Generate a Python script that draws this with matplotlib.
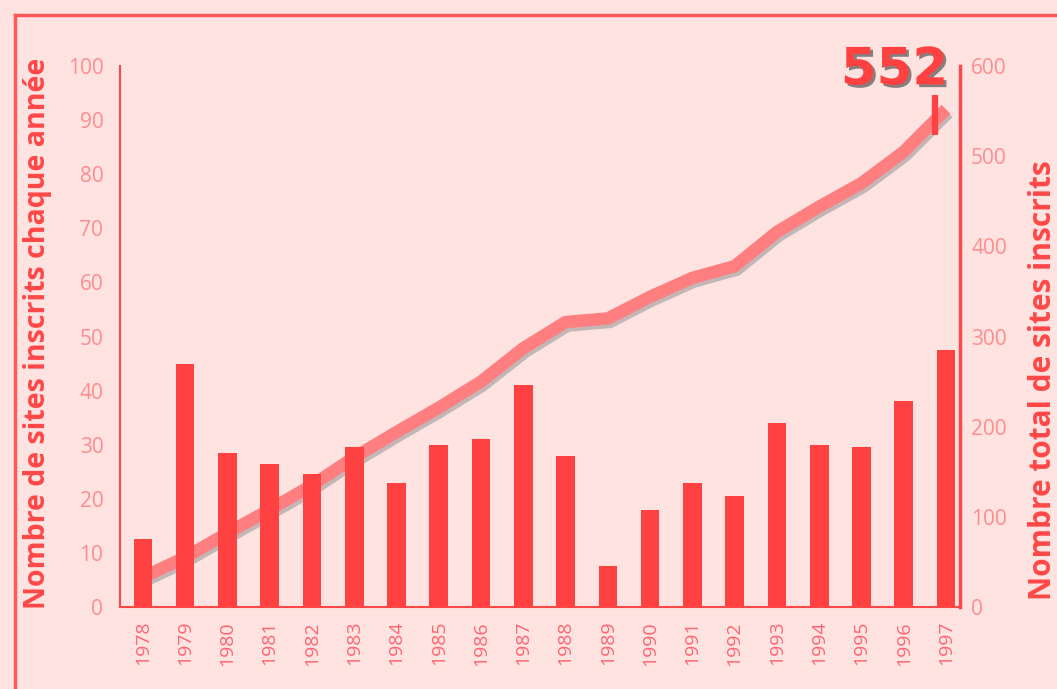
import matplotlib
matplotlib.use("Agg")
import matplotlib.pyplot as plt
import matplotlib.patheffects as pe
from matplotlib.lines import Line2D
from matplotlib.transforms import ScaledTranslation

# données
years = list(range(1978, 1998))
sites_per_year = [12.5, 45, 28.5, 26.5, 24.5, 29.5, 23, 30, 31, 41,
                  28, 7.5, 18, 23, 20.5, 34, 30, 29.5, 38, 47.5]
total_sites = [33, 55, 82, 108, 135, 166, 194, 221, 250, 287,
               316, 320, 344, 365, 378, 416, 444, 470, 505, 552]
left_ticks = list(range(0, 101, 10))
right_ticks = list(range(0, 601, 100))

bg = "#FFE3E1"
bar_red = "#FF4141"
line_pink = "#FF7E80"
tick_pink = "#FF8C8F"
label_red = "#FF4848"

plt.rcParams['font.family'] = ['Open Sans', 'DejaVu Sans']

fig = plt.figure(figsize=(10.57, 6.89), dpi=100, facecolor=bg)
ax = fig.add_axes([120 / 1057, 1 - 607 / 689, 840 / 1057, 541 / 689])
ax2 = ax.twinx()

x = list(range(len(years)))

# courbe cumulée avec ombre
ax2.plot(x, total_sites, color=line_pink, lw=9, solid_capstyle='butt',
         solid_joinstyle='round',
         path_effects=[pe.SimpleLineShadow(offset=(1.5, -2.5), shadow_color='#9a9a9a', alpha=0.6),
                       pe.Normal()])
# repère à la fin
off = ScaledTranslation(-8 / 72, -4 / 72, fig.dpi_scale_trans)
ax2.plot([x[-1], x[-1]], [total_sites[-1] - 22, total_sites[-1] + 22], color=bar_red,
         lw=4.5, solid_capstyle='butt', transform=ax2.transData + off)
ax2.annotate(f"{total_sites[-1]}", xy=(x[-1], total_sites[-1]), xytext=(-37, 28),
             textcoords='offset points', ha='center', va='center',
             fontsize=37, fontweight='bold', color=bar_red, family=['DejaVu Sans'],
             path_effects=[pe.withSimplePatchShadow(offset=(2, -2), shadow_rgbFace='#555555', alpha=0.7)])

ax.bar(x, sites_per_year, width=0.44, color=bar_red, zorder=3)

ax.set_zorder(ax2.get_zorder() + 1)
ax.patch.set_visible(False)
ax2.set_facecolor(bg)

ax.set_xlim(-0.54, 19.33)
ax.set_ylim(0, 100)
ax2.set_ylim(0, 600)

ax.set_yticks(left_ticks)
ax.set_yticklabels([str(t) for t in left_ticks])
ax2.set_yticks(right_ticks)
ax2.set_yticklabels([str(t) for t in right_ticks])
ax.set_xticks(x)
ax.set_xticklabels([str(y) for y in years], rotation=90)

ax.tick_params(axis='y', length=0, pad=12, labelsize=15, labelcolor=tick_pink)
ax2.tick_params(axis='y', length=0, pad=8, labelsize=15, labelcolor=tick_pink)
ax.tick_params(axis='x', length=0, pad=10, labelsize=14, labelcolor="#FF6570")

for a in (ax, ax2):
    a.spines['top'].set_visible(False)
    for s in ('left', 'right', 'bottom'):
        a.spines[s].set_color(label_red)
ax.spines['left'].set_linewidth(1.5)
ax.spines['bottom'].set_linewidth(1.5)
ax2.spines['right'].set_linewidth(2.5)
ax2.spines['left'].set_visible(False)
ax2.spines['bottom'].set_visible(False)

fig.text(38 / 1057, 1 - 333 / 689, "Nombre de sites inscrits chaque année", rotation=90,
         ha='center', va='center', fontsize=20.5, fontweight='bold', color=label_red)
fig.text(1043 / 1057, 1 - 380 / 689, "Nombre total de sites inscrits", rotation=90,
         ha='center', va='center', fontsize=21.5, fontweight='bold', color=label_red)

# cadre
fig.add_artist(Line2D([15 / 1057, 1], [1 - 15 / 689] * 2, color="#FF5A5A", lw=2.5,
                      transform=fig.transFigure))
fig.add_artist(Line2D([15 / 1057] * 2, [0, 1 - 15 / 689], color="#FF5A5A", lw=2.5,
                      transform=fig.transFigure))

fig.savefig("out.png", dpi=100, facecolor=bg)
